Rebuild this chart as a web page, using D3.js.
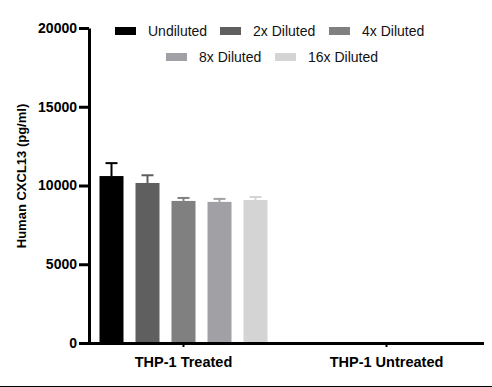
<!DOCTYPE html>
<html>
<head>
<meta charset="utf-8">
<script src="https://cdn.jsdelivr.net/npm/d3@7"></script>
<style>
  body { margin: 0; background: #fff; }
  svg { display: block; }
  svg text { font-family: Arial, "Liberation Sans", Helvetica, sans-serif; }
</style>
</head>
<body>
<script>
// data
const groups = ["THP-1 Treated", "THP-1 Untreated"];
const series = ["Undiluted", "2x Diluted", "4x Diluted", "8x Diluted", "16x Diluted"];
const colors = ["#000000", "#5f5f5f", "#808080", "#a1a1a5", "#d4d4d4"];
const treatedMean = [10600, 10160, 9020, 8960, 9080];
const treatedErr = [820, 490, 190, 190, 190];
const untreatedMean = [0, 0, 0, 0, 0];
const untreatedErr = [0, 0, 0, 0, 0];
const yTicks = [0, 5000, 10000, 15000, 20000];

const width = 492, height = 387;
const marginTop = 28, marginBottom = 44, marginLeft = 89, marginRight = 8;

const rows = [];
groups.forEach((g, gi) => {
  series.forEach((s, si) => {
    const mean = gi === 0 ? treatedMean[si] : untreatedMean[si];
    const err = gi === 0 ? treatedErr[si] : untreatedErr[si];
    rows.push({group: g, series: s, mean, err, color: colors[si]});
  });
});

const y = d3.scaleLinear()
  .domain([0, 20000])
  .range([height - marginBottom, marginTop]);

const x0 = d3.scaleBand()
  .domain(groups)
  .range([82, 488])
  .padding(0);

const x1 = d3.scaleBand()
  .domain(series)
  .range([-90, 90])
  .paddingInner(1 / 3)
  .paddingOuter(1 / 6);

const svg = d3.select("body").append("svg")
  .attr("width", width)
  .attr("height", height)
  .attr("viewBox", [0, 0, width, height]);

// bars
const bar = svg.append("g")
  .selectAll("g")
  .data(rows)
  .join("g")
  .attr("transform", d => `translate(${x0(d.group) + x0.bandwidth() / 2 + x1(d.series)},0)`);

bar.filter(d => d.mean > 0).append("rect")
  .attr("x", 0)
  .attr("width", x1.bandwidth())
  .attr("y", d => y(d.mean))
  .attr("height", d => y(0) - y(d.mean))
  .attr("fill", d => d.color);

// error bars (upper only)
const eb = bar.filter(d => d.err > 0).append("g")
  .attr("stroke", d => d.color)
  .attr("stroke-width", 2);
eb.append("line")
  .attr("x1", x1.bandwidth() / 2)
  .attr("x2", x1.bandwidth() / 2)
  .attr("y1", d => y(d.mean))
  .attr("y2", d => y(d.mean + d.err));
eb.append("line")
  .attr("x1", x1.bandwidth() / 2 - 6)
  .attr("x2", x1.bandwidth() / 2 + 6)
  .attr("y1", d => y(d.mean + d.err))
  .attr("y2", d => y(d.mean + d.err));

// y axis
svg.append("g")
  .attr("transform", `translate(${marginLeft},0)`)
  .call(d3.axisLeft(y).tickValues(yTicks).tickSize(10).tickPadding(2).tickSizeOuter(0).tickFormat(d3.format("d")))
  .attr("font-family", null)
  .call(g => g.select(".domain").attr("stroke-width", 3).attr("stroke", "#000"))
  .call(g => g.selectAll(".tick line").attr("stroke-width", 3).attr("stroke", "#000"))
  .call(g => g.selectAll(".tick text")
    .attr("font-size", 14)
    .attr("font-weight", "bold")
    .attr("fill", "#000"));

// x axis
svg.append("g")
  .attr("transform", `translate(0,${height - marginBottom})`)
  .call(d3.axisBottom(x0).tickSize(4).tickPadding(10).tickSizeOuter(0))
  .attr("font-family", null)
  .call(g => g.select(".domain").remove())
  .call(g => g.append("line")
    .attr("x1", marginLeft - 1.5)
    .attr("x2", width - marginRight)
    .attr("y1", 0.5)
    .attr("y2", 0.5)
    .attr("stroke", "#000")
    .attr("stroke-width", 3))
  .call(g => g.selectAll(".tick line").attr("stroke-width", 2).attr("stroke", "#000"))
  .call(g => g.selectAll(".tick text")
    .attr("font-size", 14.5)
    .attr("font-weight", "bold")
    .attr("fill", "#000"));

// y title
svg.append("text")
  .attr("transform", `translate(26,176) rotate(-90)`)
  .attr("text-anchor", "middle")
  .attr("font-size", 13)
  .attr("font-weight", "bold")
  .text("Human CXCL13 (pg/ml)");

// legend
const legendPos = [[115, 31], [220, 31], [329, 31], [166, 57], [275, 57]];
const legend = svg.append("g")
  .selectAll("g")
  .data(series)
  .join("g")
  .attr("transform", (d, i) => `translate(${legendPos[i][0]},${legendPos[i][1]})`);
legend.append("rect")
  .attr("x", 0)
  .attr("y", -4)
  .attr("width", 21)
  .attr("height", 8)
  .attr("fill", (d, i) => colors[i]);
legend.append("text")
  .attr("x", 33)
  .attr("y", 5)
  .attr("font-size", 14)
  .attr("fill", "#111")
  .text(d => d);

// bottom frame line
svg.append("line")
  .attr("x1", 0)
  .attr("x2", width)
  .attr("y1", 386.5)
  .attr("y2", 386.5)
  .attr("stroke", "#000")
  .attr("stroke-width", 1);
</script>
</body>
</html>
